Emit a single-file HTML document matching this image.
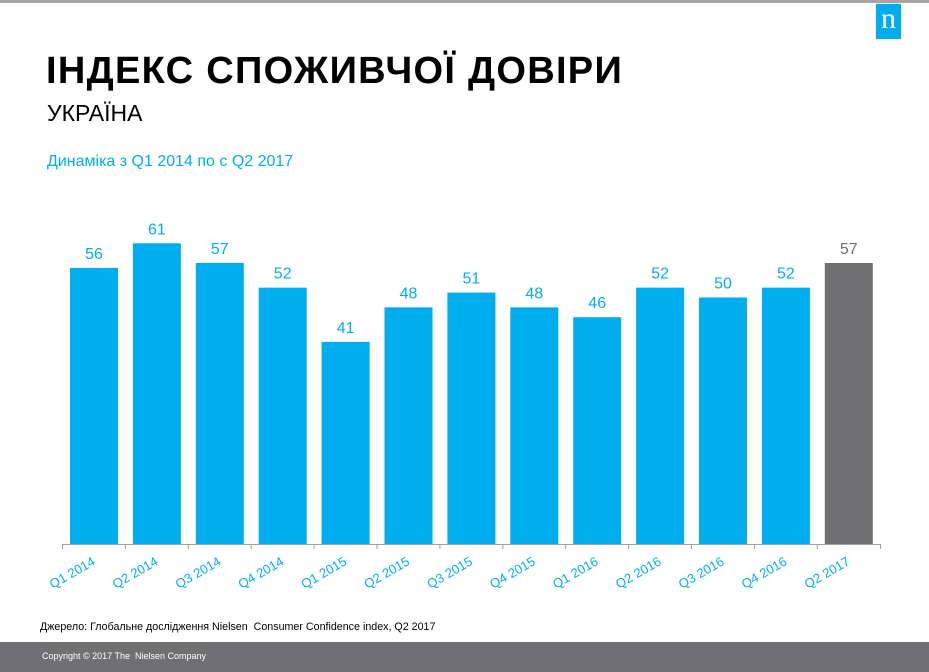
<!DOCTYPE html>
<html><head><meta charset="utf-8"><style>
body{margin:0;width:929px;height:672px;overflow:hidden;background:#fff;font-family:"Liberation Sans",Arial,sans-serif;position:relative}
.t{position:absolute;white-space:nowrap}
</style></head><body>
<div style="position:absolute;left:0;top:0;width:929px;height:3px;background:#a6a6a8"></div>
<div style="position:absolute;left:876px;top:4px;width:25px;height:35px;background:#00aeef;color:#fff;font-family:'Liberation Serif',serif;font-size:30px;line-height:30px;text-align:center">n</div>
<div class="t" style="left:46px;top:50px;font-size:38px;font-weight:bold;color:#000;letter-spacing:1.3px">ІНДЕКС СПОЖИВЧОЇ ДОВІРИ</div>
<div class="t" style="left:47px;top:100px;font-size:23px;color:#000">УКРАЇНА</div>
<div class="t" style="left:47px;top:153px;font-size:16px;color:#00aeef">Динаміка з Q1 2014 по с Q2 2017</div>
<svg width="929" height="672" style="position:absolute;left:0;top:0" font-family="Liberation Sans, Arial, sans-serif">
<g id="bars"></g>
<line x1="62" y1="544.5" x2="880" y2="544.5" stroke="#a0a0a0" stroke-width="1"/>
<g id="ticks" stroke="#a0a0a0"></g>
<g id="lbl"></g>
</svg>
<div class="t" style="left:40px;top:621px;font-size:10.7px;color:#000">Джерело: Глобальне дослідження Nielsen&nbsp; Consumer Confidence index, Q2 2017</div>
<div style="position:absolute;left:0;top:642px;width:929px;height:30px;background:#707073"></div>
<div class="t" style="left:42px;top:651px;font-size:9px;color:#fff">Copyright © 2017 The&nbsp; Nielsen Company</div>
<script>
(function(){
var v=[56,61,57,52,41,48,51,48,46,52,50,52,57];
var q=["Q1 2014","Q2 2014","Q3 2014","Q4 2014","Q1 2015","Q2 2015","Q3 2015","Q4 2015","Q1 2016","Q2 2016","Q3 2016","Q4 2016","Q2 2017"];
var ns="http://www.w3.org/2000/svg",b=document.getElementById("bars"),t=document.getElementById("ticks"),l=document.getElementById("lbl");
function el(n,a,p,txt){var e=document.createElementNS(ns,n);for(var k in a)e.setAttribute(k,a[k]);if(txt)e.textContent=txt;p.appendChild(e);return e;}
for(var i=0;i<13;i++){
 var x0=62+i*62.9,h=v[i]*4.93,yy=544-h,c=i==12?"#707073":"#00aeef";
 el("rect",{x:x0+8,y:yy,width:48,height:h,fill:c},b);
 el("text",{x:x0+32,y:yy-9,"text-anchor":"middle","font-size":16,fill:c},l,String(v[i]));
 el("line",{x1:x0+.5,y1:544,x2:x0+.5,y2:549},t);
 el("text",{x:0,y:0,"text-anchor":"end","font-size":13,fill:"#00aeef",transform:"translate("+(x0+34)+",564) rotate(-30)"},l,q[i]);
}
el("line",{x1:880.5,y1:544,x2:880.5,y2:549},t);
})();
</script>
</body></html>
